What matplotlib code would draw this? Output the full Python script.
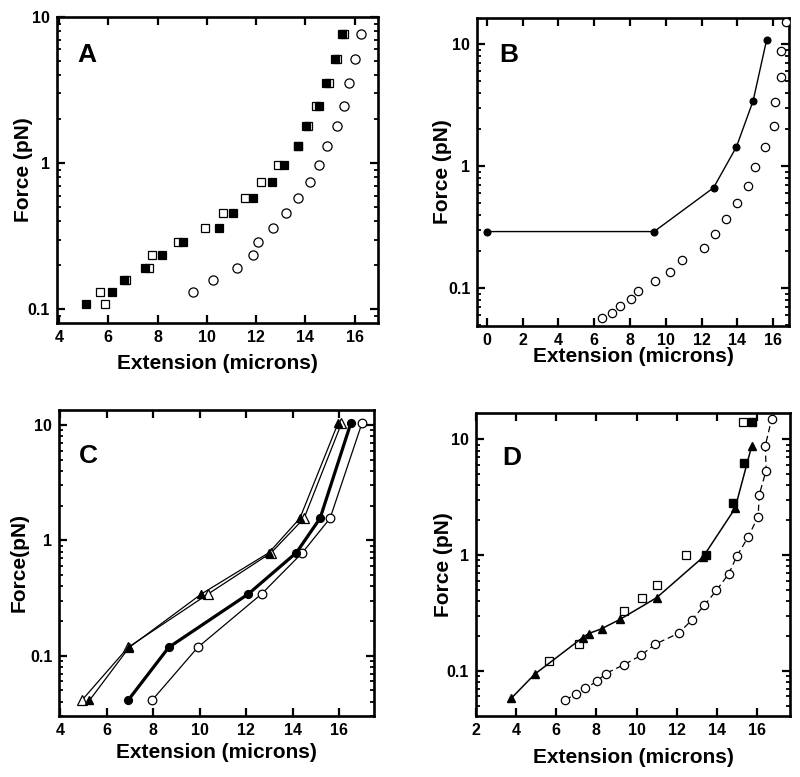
import matplotlib
matplotlib.use('Agg')
import matplotlib.pyplot as plt
from matplotlib.ticker import FixedLocator, FixedFormatter, LogLocator, NullFormatter

plt.rcParams['font.family'] = ['Liberation Sans', 'DejaVu Sans']
plt.rcParams['font.weight'] = 'bold'

# ---------------- Panel A ----------------
a_force = [0.108, 0.1306, 0.158, 0.192, 0.235, 0.289, 0.362, 0.455, 0.576,
           0.749, 0.978, 1.32, 1.80, 2.48, 3.53, 5.16, 7.69]
a_filled_sq_x = [5.08, 6.16, 6.64, 7.49, 8.20, 9.04, 10.51, 11.05, 11.89,
                 12.63, 13.12, 13.69, 14.03, 14.57, 14.83, 15.21, 15.48]
a_open_sq_x = [5.86, 5.66, 6.73, 7.66, 7.79, 8.85, 9.94, 10.64, 11.56,
               12.22, 12.90, 13.72, 14.12, 14.43, 14.97, 15.28, 15.59]
a_circle_force = [0.1306, 0.158, 0.192, 0.235, 0.289, 0.362, 0.455, 0.576,
                  0.749, 0.978, 1.32, 1.80, 2.48, 3.53, 5.16, 7.69]
a_circle_x = [9.46, 10.24, 11.21, 11.87, 12.09, 12.69, 13.22, 13.72,
              14.17, 14.56, 14.90, 15.28, 15.59, 15.79, 16.02, 16.27]

# ---------------- Naked DNA circles (B and D) ----------------
dna_x = [6.45, 6.97, 7.45, 8.04, 8.46, 9.38, 10.23, 10.93, 12.12, 12.75,
         13.38, 13.98, 14.6, 15.0, 15.56, 16.06, 16.12, 16.46, 16.42, 16.74]
dna_force = [0.0562, 0.0625, 0.0705, 0.0815, 0.0946, 0.1131, 0.1363, 0.170,
             0.212, 0.275, 0.368, 0.495, 0.69, 0.98, 1.43, 2.15, 3.33, 5.38,
             8.85, 15.1]

# ---------------- Panel B ----------------
b_filled_x = [0.0, 9.35, 12.67, 13.95, 14.88, 15.63]
b_filled_force = [0.29, 0.29, 0.664, 1.44, 3.43, 10.8]

# ---------------- Panel C ----------------
c_force = [0.041, 0.118, 0.343, 0.783, 1.556, 10.35]
c_open_tri_x = [4.92, 6.91, 10.36, 13.08, 14.49, 16.10]
c_filled_tri_x = [5.25, 6.96, 10.07, 12.98, 14.31, 15.95]
c_filled_circ_x = [6.91, 8.66, 12.09, 14.16, 15.18, 16.50]
c_open_circ_x = [7.94, 9.91, 12.66, 14.42, 15.61, 16.98]

# ---------------- Panel D ----------------
d_tri_x = [3.75, 4.93, 7.32, 7.62, 8.26, 9.17, 11.0, 13.30, 14.91, 15.74]
d_tri_force = [0.0577, 0.0936, 0.194, 0.210, 0.231, 0.278, 0.428, 0.954, 2.53, 8.75]
d_open_sq_x = [5.63, 7.12, 9.39, 10.25, 11.0, 12.47, 15.33]
d_open_sq_force = [0.121, 0.170, 0.328, 0.425, 0.557, 1.01, 14.0]
d_filled_sq_x = [13.47, 14.80, 15.35, 15.76]
d_filled_sq_force = [1.0, 2.83, 6.21, 14.2]

y_ticks = [0.1, 1, 10]
y_tick_labels = ['0.1', '1', '10']

W, H = 800, 777
fig = plt.figure(figsize=(W / 100, H / 100), dpi=100)


def make_ax(l, r, t, b):
    return fig.add_axes([l / W, 1 - b / H, (r - l) / W, (b - t) / H])


def style(ax, xlim, ylim, xticks, letter, lx, ly, ylabel, ylab_x, xlab_y):
    ax.set_yscale('log')
    ax.set_xlim(*xlim)
    ax.set_ylim(*ylim)
    ax.xaxis.set_major_locator(FixedLocator(xticks))
    ax.xaxis.set_major_formatter(FixedFormatter([str(v) for v in xticks]))
    ax.yaxis.set_major_locator(FixedLocator(y_ticks))
    ax.yaxis.set_major_formatter(FixedFormatter(y_tick_labels))
    ax.yaxis.set_minor_locator(LogLocator(base=10, subs=range(2, 10), numticks=20))
    ax.yaxis.set_minor_formatter(NullFormatter())
    for s in ax.spines.values():
        s.set_linewidth(1.9)
    ax.tick_params(which='both', direction='in', top=True, right=True)
    ax.tick_params(which='major', length=6, width=1.6, labelsize=11.5, pad=5)
    ax.tick_params(which='minor', length=3.2, width=1.3)
    for lab in ax.get_xticklabels() + ax.get_yticklabels():
        lab.set_fontweight('bold')
    ax.text(lx, ly, letter, transform=ax.transAxes, fontsize=19,
            fontweight='bold', ha='left', va='baseline')
    ax.set_xlabel('Extension (microns)', fontsize=15, fontweight='bold')
    ax.set_ylabel(ylabel, fontsize=15, fontweight='bold')
    ax.xaxis.set_label_coords(0.5, xlab_y)
    ax.yaxis.set_label_coords(ylab_x, 0.5)


ms_sq = 6.2
ms_circ = 6.6
ew = 0.9

# Panel A
axA = make_ax(57, 378, 17, 323)
axA.plot(a_open_sq_x, a_force, 's', ms=ms_sq, mfc='white', mec='black', mew=ew, zorder=3)
axA.plot(a_filled_sq_x, a_force, 's', ms=ms_sq, mfc='black', mec='black', mew=ew, zorder=4)
axA.plot(a_circle_x, a_circle_force, 'o', ms=ms_circ, mfc='white', mec='black', mew=ew, zorder=3)
style(axA, (3.92, 16.95), (0.0806, 10), [4, 6, 8, 10, 12, 14, 16], 'A', 0.062, 0.853,
      'Force (pN)', -0.074, -0.101)

# Panel B
axB = make_ax(477.3, 789.3, 18.3, 325.7)
axB.plot(dna_x, dna_force, 'o', ms=6.0, mfc='white', mec='black', mew=ew,
         zorder=3, clip_on=True)
axB.plot(b_filled_x, b_filled_force, '-o', color='black', lw=1.0, ms=4.8,
         mfc='black', mec='black', zorder=4)
style(axB, (-0.525, 16.9), (0.049, 16.3), [0, 2, 4, 6, 8, 10, 12, 14, 16], 'B',
      0.07, 0.858, 'Force (pN)', -0.082, -0.069)

# Panel C
axC = make_ax(59.3, 374, 410, 716)
axC.plot(c_open_tri_x, c_force, '-^', color='black', lw=0.9, ms=6.5,
         mfc='white', mec='black', mew=ew, zorder=3)
axC.plot(c_filled_tri_x, c_force, '-^', color='black', lw=0.9, ms=6.0,
         mfc='black', mec='black', zorder=4)
axC.plot(c_open_circ_x, c_force, '-o', color='black', lw=0.9, ms=6.2,
         mfc='white', mec='black', mew=ew, zorder=3)
axC.plot(c_filled_circ_x, c_force, '-o', color='black', lw=2.3, ms=5.6,
         mfc='black', mec='black', zorder=4)
style(axC, (3.95, 17.5), (0.030, 13.5), [4, 6, 8, 10, 12, 14, 16], 'C',
      0.063, 0.827, 'Force(pN)', -0.0985, -0.088)

# Panel D
axD = make_ax(476, 790, 412.7, 716)
axD.plot(dna_x, dna_force, '--o', color='black', lw=0.9, dashes=(5, 3), ms=6.0,
         mfc='white', mec='black', mew=ew, zorder=3)
axD.plot(d_tri_x, d_tri_force, '-^', color='black', lw=1.1, ms=6.0,
         mfc='black', mec='black', zorder=4)
axD.plot(d_open_sq_x, d_open_sq_force, 's', ms=6.0, mfc='white', mec='black',
         mew=ew, zorder=3)
axD.plot(d_filled_sq_x, d_filled_sq_force, 's', ms=5.6, mfc='black', mec='black',
         zorder=5)
style(axD, (2.0, 17.65), (0.0407, 17.0), [2, 4, 6, 8, 10, 12, 14, 16], 'D',
      0.083, 0.828, 'Force (pN)', -0.072, -0.105)

fig.savefig('out.png', dpi=100)
